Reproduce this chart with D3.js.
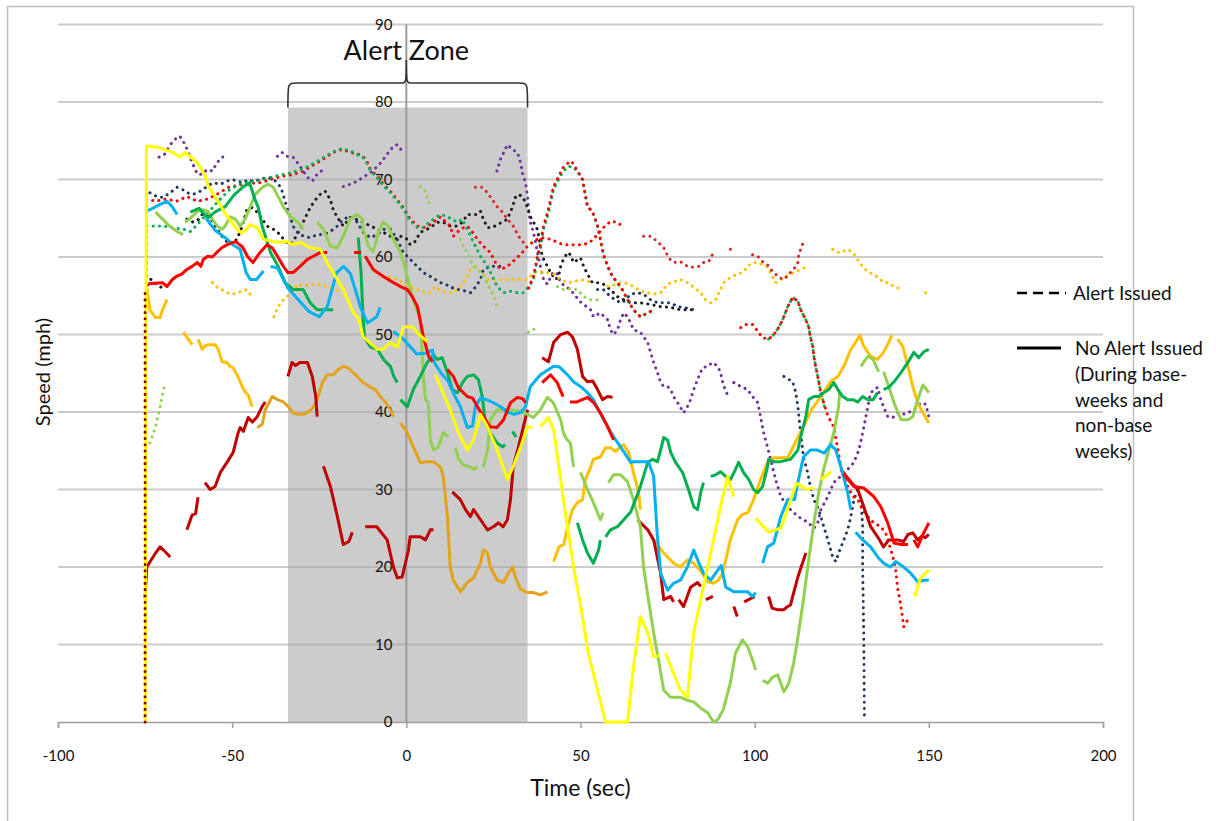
<!DOCTYPE html>
<html>
<head>
<meta charset="utf-8">
<script src="https://cdn.jsdelivr.net/npm/d3@7"></script>
<style>
  body { margin: 0; background: #fff; }
  svg { display: block; }
  text { font-family: Lato, "Open Sans", "DejaVu Sans", sans-serif; fill: #111; }
</style>
</head>
<body>
<svg id="chart" width="1216" height="821"></svg>
<script>
// ---- axes ----
const xTicks = [-100, -50, 0, 50, 100, 150, 200];
const yTicks = [0, 10, 20, 30, 40, 50, 60, 70, 80, 90];
const alertZone = [-34, 34.8];      // seconds
const alertZoneTop = 79.3;          // mph

// ---- no-alert trips (solid) : [time (s), speed (mph)], null = gap ----
const yellowSolid = [[-75,0],[-74.6,74.3],[-73.6,74.3],[-70.7,74.1],[-67,73.5],[-65,72.9],[-63.5,73.5],[-60,72.2],[-57.8,70.5],[-56.9,69.2],[-54.4,67.4],[-51.5,65.3],[-48.7,63.6],[-47.2,63.1],[-45.8,63.6],[-44.8,64.2],[-42.8,63.8],[-41,62.3],[-37,61.9],[-34.2,62],[-32.5,61.6],[-30.5,61.9],[-27.6,61.2],[-24.7,61],[-22.7,59.3],[-18.1,55.8],[-15.2,52.8],[-13.6,52],[-12.4,49.7],[-8.3,48.1],[-6.6,48.1],[-4.6,49],[-2.6,48.4],[-0.9,50.9],[0.3,51],[2,50.9],[3.2,50.2],[6,49.1],null,
  [8.3,44.8],[9.8,43.3],[12.6,40.3],[15,37.3],[17.5,35.1],[19.3,36.4],[21.3,39.7],[23.3,38.1],[26.1,35.1],[29,31.3],[30.7,33],[32.8,35.5],[34.8,38.1],[36.2,38],null,[38.5,38.1],[40.8,39.3],[42.3,37.7],[45.1,28.7],[48,20],[50.6,13.6],[52,9.3],[54.9,4.1],[57.2,0],[63.5,0],[65.2,7.1],[67.2,13.6],[69.3,11.5],[71,8.4],[72.5,8.6],null,
  [74.4,8.9],[76.7,6.3],[78.7,4.1],[80.7,3.2],[82.5,11.5],[86.5,20],[88.2,23.5],[90.2,27.8],[92.2,31.7],[94,29.1],null,
  [100.3,26.3],[104,24.5],[107.5,25],[112,30.8],[115,30],[117,30.2],null,[119,31.3],[122,32.3],null,[146,16.2],[147.5,18.5],[150,19.6]];

const orangeSolid = [[-74.5,56],[-74,54.5],[-73.6,53.2],[-72,52.2],[-70.7,52.2],[-70,53.2],[-68.7,54.5],null,
  [-64,50.3],[-62.6,49.4],[-61.5,48.7],null,[-59.8,49.4],[-58.6,48.1],[-57.8,48.5],[-56.9,48.7],[-54.9,48.7],[-54,48.1],[-52.9,46.5],[-51.5,46.4],[-50.6,45.9],[-49.7,45.7],[-48.6,44.8],[-47.1,43.3],[-46.3,42.6],[-45.4,42.2],[-44.3,40.7],null,
  [42.3,20.7],[43.8,22.6],[45.2,22.9],[46.3,25.2],[47.7,27.4],[49.1,28.3],[50.6,28.7],[51.4,31.3],[52.9,32.9],[53.7,33.9],[55.7,34.2],[57.2,35.4],[58.6,35.4],[60,34.9],[61.5,35.5],[62.4,35.8],[63.8,34.8],[65.2,32.2],[66.7,29.6],[67.2,27.4],null,
  [69.3,24.8],[71,23.5],[73.9,21.8],[76.7,20.5],[78.7,20],[80.7,20.9],[82.5,20.5],[84.5,19.5],[86.5,18.1],[88.2,17.9],[89.6,18.3],[90.8,19.2],[91.7,20.9],[93,23.5],[95.1,26.1],[96.5,26.8],[98,27],[99.7,28.7],[101.7,31.3],[103.7,33.5],[105.5,34.1],[109.5,34.1],[111.8,36.2],[114,38.1],[116.3,40.3],[119,42],[121.8,43.9],[123.9,44.6],[125.6,45.9],[127.6,48.1],[129,49],[130.2,49.9],[131.3,48.5],[133.3,47.2],[135.3,46.8],[137,47.7],[138.5,49],[139.4,49.9],null,
  [141,49.4],[142.5,48.5],[144,45.9],[145.4,43.3],[146.8,41.2],[148.3,39.9],[150,38.6]];

const goldSolid = [[-42.8,38],[-41.4,38.4],[-40.5,40.3],[-38.5,42],[-37,41.6],[-35.3,41.3],[-33.9,40.7],[-32.5,39.9],[-31.3,39.7],[-29.6,39.7],[-28.2,40],[-26.7,40.6],[-25.6,41.6],[-24.1,43.8],[-22.7,44.8],[-21,44.8],[-19.5,45.5],[-18.1,45.9],[-16.7,45.7],[-15.5,45.2],[-14.1,44.6],[-12.4,43.8],[-10.3,43.2],[-8.9,42.9],[-7.5,42],[-6,41.3],[-4.6,40.3],[-3.7,39.4],null,
  [-1.7,38.6],[0.3,37.3],[2,35.5],[4,33.5],[6,33.6],[7.8,33.6],[9.8,32.9],[10.6,31.7],[11.8,26.5],[12.6,20],[13.5,18.3],[15.5,16.8],[17.5,18],[19.3,18.6],[21.3,20.5],[22.1,22.2],[23.3,21.8],[24.1,20],[26.1,18.3],[27.9,18],[29.3,19.2],[30.5,20],[31.3,18.7],[32.8,17.1],[34.8,16.7],[36.5,16.7],[38.5,16.4],[40.5,16.8]];

const redSolid = [[-74.8,56.2],[-73.6,56.6],[-70,56.7],[-68.7,56.2],[-67.2,57.1],[-66,57.5],[-64.5,57.8],[-63,58.4],[-61.5,58.8],[-60,59.3],[-59,58.8],[-58.3,59.7],[-57,60.1],[-55.7,60],[-54.4,60.6],[-53,61.2],[-51,61.7],[-49,62],[-47,61.3],[-45.5,60],[-44,59.3],[-42,60.6],[-40,61.6],[-38.5,61.2],[-37,60.1],[-35.3,58.8],[-34,58],[-32.5,58],[-30.5,58.8],[-28.4,59.7],[-26.7,60.1],[-24.7,60.6],[-22.7,60.6],null,
  [-15,60.6],[-13,60.6],null,[-11.8,60.1],[-9.5,58.4],[-6.6,57.5],[-3.7,56.7],[-1.7,56.2],[0.3,55.8],[1.7,54.9],[3.2,53.6],[4.9,49.7],[6.4,47.2],[7.5,46.5],null,
  [11.8,45.5],[13.5,44.6],[15,43.1],[17.5,42],[19,41.8],[20.4,40.7],[22.2,39.4],[24,38.1],[26,38],[27.9,39],[29.9,41.2],[31.9,41.9],[33.5,41.7],[34.2,41.2],null,
  [39,43.8],[41.4,44.8],[43.3,43.8],[45,42],null,[47,41.3],[49,41.3],[52,41.9],[53.8,41.2],[55.7,39.9],[57.8,38.1],[59.5,36.4],null,
  [125.5,32],[128.5,30.4],[131.3,30.2],[134.2,29.1],[136.2,27.8],[138.2,25.7],[140,23.1],[142,22.9],[144,22.9],null,[145.7,23.5],[146.8,22.6],[148.3,24.2],[150,25.7]];

const darkRedSolid = [[-75,16],[-74.5,20],[-72,21.8],[-70.7,22.6],[-69.3,22],[-67.8,21.3],null,
  [-63,24.8],[-61.5,26.7],[-60.5,26.9],[-59.8,29],null,
  [-57.8,30.9],[-56.3,30],[-54.9,30.4],[-53.4,32.2],[-51.5,33.5],[-49.7,34.8],[-48.3,37.3],[-47.7,38],[-46.8,37.5],[-45.4,39.3],[-44.2,38.7],[-42.8,39.4],[-41.4,40.7],[-40.5,41.3],null,
  [-34,44.6],[-32.8,46.4],[-31.8,46],[-30.5,46.4],[-28.4,46.4],[-27,44.6],[-26,42],[-25.6,39.4],null,
  [-23.8,33],[-21.8,30.4],[-19.8,26.5],[-18.1,22.9],[-16.5,23.3],[-15.5,24.5],null,
  [-11.8,25.2],[-8.5,25.2],[-5.5,23.5],[-3.7,20],[-2.6,18.6],[-1.2,18.7],[0.6,22.2],[1.1,23.9],[4,23.9],[5.5,23.5],[6.9,24.8],[7.8,24.8],null,
  [13.2,29.7],[15.5,28.7],[17,27.4],[18.4,26.5],[19.3,27.4],[21.3,26.1],[23.3,24.8],[25,25.2],[26.4,25.7],[27.8,25.2],[29,26.1],[29.9,28.7],[30.7,33],[32.2,35.5],[33.6,38.1],[34.8,40.3],null,
  [39,47],[40.8,46.5],[42.3,49],[44.3,50],[46.3,50.3],[47.7,49.7],[49.1,48.1],[50.6,44.6],[52,43.9],[53.5,44],[54.9,42.9],[56.3,41.6],[57.8,42],[59.2,41.9],null,
  [66.4,26.1],[69.3,24.8],[71,23.5],[73,19.2],[73.9,15.8],[75.9,16.2],[76.7,15.5],null,
  [78.2,15.8],[79.6,14.9],[81.6,17.4],[83.6,18],[84.5,17.5],null,[86,15.8],[88,16.2],null,[94,14.9],[95,13.6],null,[97,15.5],[100,16.2],null,
  [104,16.2],[105,14.7],[106.5,14.5],[108.4,14.5],[109.4,14.9],[110.3,15.1],[111.2,16.7],[112.4,18.7],[114.7,21.8],null,
  [124.7,32.6],[127.6,31],[129.6,30],[131.3,27.8],[133.3,25.2],[135.3,23.9],[137,22.6],[138.5,23.5],[141,23.5],[142.8,23.3],[144,24.2],[145.4,24.4],[146.8,23.5],[148,24],[149,23.8],[150,24.2]];

const lightGreenSolid = [[-72,65.8],[-70,64.9],[-68,64],[-65.8,63.3],[-64.1,62.9],null,
  [-63.5,64.5],[-61.5,65.2],[-60,65.9],[-58.3,66.1],[-56.9,65.9],[-55.7,64.9],[-54.3,64],[-52.9,63.6],[-52,64],[-50.6,65.2],[-49.1,64.9],[-47.7,64],[-46.3,64.9],[-44.8,66.5],[-43.4,68.1],[-42,68.7],[-41,69.1],[-39.7,69.4],[-38.2,69],[-36.8,67.8],[-35.3,66.5],[-33.3,65.2],[-31.3,64.6],[-29.6,63.6],null,
  [-25.6,64.5],[-23.8,63.6],[-21.8,61.4],[-19.8,61.2],[-18.1,62.7],[-16.1,64.9],[-14.1,65.5],[-12.6,64.9],[-12.4,63.6],[-10.9,61.4],[-9.5,60.7],[-8,63.2],[-6.6,64.5],[-5.2,64],[-3.7,62.3],[-1.7,60.6],[0.3,57.5],[2,54.5],[4,51.9],[4.5,48],[5,44],[5.5,41.6],[6.3,41.2],[6.9,36.4],[7.8,35.1],[9.2,35.5],[10.6,37.3],[12.1,36.8],null,
  [14.1,35.4],[15,33.9],[16.4,33.2],[18.4,32.9],[19.3,32.6],[20.4,32.9],null,
  [22.1,32.9],[23.3,35.1],[24.1,39],[26.1,40.3],[29.9,40.3],[32.8,40.1],[34.8,39.7],[36.5,39.3],[38.5,40.3],[40.5,41.9],[42.2,41.2],[44.3,39],[45.1,37.3],[46,36.5],[47.1,36],[48,32.9],null,
  [50,32.2],[52,30],[53.7,28.3],[55.7,26.1],[56.5,27],null,
  [58,30.9],[59.5,31.9],[61.5,31.9],[63.5,31],[65.2,28.7],[67.2,25.2],[68.1,20],[69.5,15.8],[71,11.5],[72.4,8],[73.9,4.1],[75.9,3.2],[78.7,3.2],[80.7,2.8],[82.5,2.6],[84.5,1.8],[86.5,1.2],[88.2,0],[89.4,0.3],[91,1.6],[93,5],[94.5,8.9],[96.5,10.6],[98,9.7],[99.4,8],[100.3,6.7],null,
  [102.3,5.4],[103.7,5],[105.2,5.8],[106.6,6.1],[107.5,5],[108.4,3.9],[109.8,5],[111.2,7.6],[112.6,11.5],[114,15.8],[115.5,20.9],[117,25.7],[118.4,29.6],[119.8,32.6],[121.3,35.1],[122.7,37.3],[124.1,40.7],[124.4,42.6],null,
  [130.5,45.9],[132.5,47.2],[134,46.8],[135.6,45.2],null,
  [137,45.2],[138.5,43.3],[140,41.2],[142,39],[144,39],[145.4,39.4],[146.8,41.6],[148.3,43.5],[150,42.5]];

const greenSolid = [[-62,65.8],[-59.5,66.3],[-57,65],[-55,65.8],[-52,66.5],[-49.5,68],[-47,69],[-45,69.6],[-43.5,67.5],[-42.5,66.4],[-41.4,64],[-39,60.6],[-36.8,58.8],[-34.8,56.7],[-32.5,55.8],[-29.6,55.8],[-27.6,54.1],[-25.6,53.2],[-21,53.2],null,
  [-13.8,62.5],[-13,58],[-12.4,52],[-12,49.6],[-10.3,48.4],[-8.3,48.1],[-6.6,46.8],[-4.6,45.9],[-3.5,44.5],[-2.6,43.8],null,
  [-1.7,41.6],[0.3,40.7],[2,42.9],[4,44.6],[6,46.4],[7.8,47.4],[8.9,46.8],[10.3,47],[11.8,45.1],[13.2,42.9],[14.7,42.5],[16.1,43.8],[17.5,44.6],[19.3,44.8],[20.7,44.2],[21.8,42],[22.7,38.6],[24.1,37.3],[26.1,36],[27.6,35.5],[28.4,35.8],null,
  [30.5,37.5],[31.5,36.8],null,
  [49.1,25.7],[50.6,23.5],[52,21.8],[53.7,20.5],[55.2,22.2],[55.7,23.5],null,
  [57.2,23.9],[58.6,24.8],[60.6,25.2],[62.4,26.1],[64.4,27.1],[65.8,28.7],[67.2,30.4],[69.3,33.5],[70.7,33.9],[72.1,33.6],[73,35.1],[73.9,36.7],[75,36.4],[75.9,34.8],[77.3,33.5],[79.3,32.2],[81,30],[82.5,27.8],[83.6,27.4],[84.5,29.6],[85.3,30.9],null,
  [87.4,31.7],[88.8,31.9],[90.2,32.3],[91.7,31.7],[93.1,31.3],[94.5,32.6],[95.4,33.5],[96.8,32.2],[98.3,31.3],[99.7,30],[100.9,29.6],[102.3,30.4],[103.7,33],[104,33.9],[105.5,33.6],[107.5,33.6],[110.3,33.9],[112.4,35.1],[113.2,36.8],[114.7,39.4],[115.5,41.6],[117,42],[118.4,42],[119.8,42.5],[121.3,42.9],[122.7,43.8],[123.9,42.9],[125.3,42],[126.7,41.6],[128.2,41.6],[129.6,41.3],[131,42],[132.5,41.6],[134,41.6],[135.3,42.5],null,
  [137,42.9],[138.5,43.2],[140,43.9],[142,45.1],[144,46.4],[145.7,47.7],[147.1,47],[148.6,47.8],[150,48.1]];

const lightBlueSolid = [[-74.6,66],[-73.6,66.1],[-70.7,66.8],[-68.7,67.2],[-67.2,66.5],[-65.8,65.5],null,
  [-57.5,65],[-55,63.5],[-52,62.5],[-49.5,61.5],[-47.7,61],[-46,58],[-44.8,57.1],[-43,57.1],[-41,58.2],null,
  [-39,58.8],[-37,58.6],[-34,56],[-31,54.5],[-28,53],[-25,52.3],[-22.7,53.6],[-20,58],[-18,58.8],[-16,57.8],[-13.2,53.6],[-11.2,51.5],[-8.5,52.3],[-7.5,53.5],null,
  [-3.7,50.4],[-1,49.5],[1,48.5],[3,47.5],[5.5,47.6],[7.5,48],[8,46.4],[10,45],[12,44],[14,42],[15.5,40.7],[17.5,38],[19,38.2],[19.8,40.7],[21.3,41.8],[23,41.6],[25,41.2],[27,40.7],[29,40],[31,39.7],[33,40],[34.2,40.7],[35.6,43.3],[38.5,44.8],[42.3,45.9],[44,45.8],[46.3,44.8],[48,43.9],[50,43.3],[52,42.5],[53.7,41.6],[55.5,40],[57.8,38.1],[59.5,36.8],[61.5,35.5],[64.4,33.5],[65.5,33.6],[69.5,33.6],[71,31.7],[72,24.4],[73,19.2],[75,17],[76.7,17.9],[78.7,18.3],[80.7,20],[82.5,22.2],[84,20.5],[85.3,19.2],[87.4,18.3],[89.4,19.6],[90.4,20.2],[91.7,17.4],[94,16.8],[98,16.8],[99.4,16.2],[100.3,16.7],null,
  [102.3,20.5],[103.7,22.6],[105.5,23.1],[107.5,26.5],[109.5,28.7],[111.4,28.7],[112.4,30.9],[114,34.2],[116,35.1],[118,35.1],[120,34.7],[121.8,35.8],[123.3,35.1],[124.7,33],[126.7,29.6],[127.6,27.4],null,
  [129,24.5],[131,23.5],[133.3,22.6],[135.3,21.3],[137,20.5],[139,20],[140.5,20.7],[142.8,20],[144.8,19.2],[146.8,18.1],[148.6,18.3],[150,18.3]];

// ---- alert-issued trips (dotted) ----
const purpleDotted = [[-71,72.9],[-69.3,73.3],[-67.8,74.5],[-66.4,75.2],[-65,75.6],[-63.5,74.5],[-62.6,73.5],[-61.5,72.2],[-60,70.7],[-58.6,70.7],[-57.2,71.3],[-55.7,71.1],[-54.3,72.2],[-52.9,72.9],[-52,72.9],null,
  [-37,73],[-35.7,73.5],[-34.2,73],[-32.5,72.9],[-31.3,72.2],[-29.9,71.3],[-28.4,70.3],[-27,69.8],[-25.6,70.7],[-23.8,71.3],null,
  [-18.1,69.1],[-16.1,69.4],[-14.1,69.8],[-12.4,70.3],[-10.3,70.9],[-8.3,71.7],[-6.9,72.4],[-5.5,73.3],[-3.7,74.3],[-2.6,74.5],[-0.9,73.5],null,
  [26,71.1],[27,72.6],[29,74.5],[30.4,73.9],[31.9,73.5],[32.8,72.2],[33.3,70.9],[34.2,69.6],[34.8,67.8],[35.1,66.1],[35.6,64.5],[36.5,63.2],[37.1,61.9],[37.6,60.6],[38.5,58.8],[39.4,57.1],[40.5,56.5],[41.4,57.4],[42.2,58.1],[43.4,57.8],[44.3,56.7],[45.7,56.2],[47.1,55.8],[50,54.2],[52.9,53.2],[53.7,52.3],[55.7,52.8],[57.8,51.9],[58.6,50.6],[59.5,50],[60.6,50.6],[61.5,51.9],[62.4,52.8],[63.5,52.3],[64.4,51.5],[65.2,50.6],[67.2,50.3],[68.1,49.7],[69.3,49],[70.1,47.7],[71,46.4],[72.1,45.1],[73,43.8],[73.9,43.3],[75,43.3],[75.9,42.9],[76.7,42],[77.9,41.2],[78.7,40.6],[79.6,39.9],[80.7,40.7],[81.6,41.6],[82.5,42.9],[83.6,44.2],[85,45.7],[86.5,45.9],[87.9,46.4],[89.4,45.9],[90.2,45.1],[91,43.5],[92.2,42.2],null,
  [94,43.8],[96,43.3],[98,42.9],[99.4,42],[100.9,41.2],[102.6,37.3],[104.6,33.9],[106,31.3],[107.5,29.1],[109.5,27.8],[111.2,27],[113.2,26.3],[115.2,25.8],[117,25],[118.1,25.7],[119,27.4],[121,29.1],[122.7,30.9],[124.7,31.7],[126.7,32.6],[128.5,33.5],[129.9,35.1],[131,37.3],[132.5,40.7],[133.3,42.5],[135.3,43.2],[136.2,41.6],[137,40.7],[138.2,39.4],[139.7,39.3],[141,39.9],[142.5,39.7],[144,39.9],[145.7,40.3],[147.7,41.2],[149.1,41],[150,39.4]];

const blackDotted = [[-74.6,68.2],[-74.6,57.5],[-73,57],[-71.5,56.4],[-70,56],null,
  [-63,64.9],[-61.2,64.5],[-59.5,64.9],[-58.6,65.5],[-56.5,65.2],[-54.3,63.6],[-52.6,62.5],[-50.6,61.6],[-48.6,62.3],[-47.1,64],[-45.8,66.1],[-44.3,66.4],[-42.8,65.8],[-41.4,64.9],[-40,64],[-38.2,63.6],[-36.2,62.9],[-34.8,62],[-33.3,61.6],[-31.9,62.5],[-30.5,63.6],[-29,65.1],[-27.6,66.4],[-26.1,67.4],[-24.7,68.1],[-23.3,68.5],[-21.8,67.4],[-21,66.1],[-19.5,64.9],[-18.1,64],[-16.1,65.1],[-14.6,64.9],[-12.4,64.5],[-10.3,64],[-8.3,63.6],[-6.6,63.2],[-4.6,62.7],[-2.6,62.3],[-1.7,62.7],[0.3,62.3],[1.1,61.6],[2.5,62],[4,63.2],[6,63.6],[7.5,64],[8.9,64.5],[10.6,64.5],[12.6,64],[14.7,64],[16.1,64.5],[17.5,65.5],[19,65.5],[20.4,65.5],[21.3,65.9],[22.1,64.9],[23.3,63.8],[24.7,63.8],[26.1,64.2],[27.6,64.5],[29,64.9],[30.5,66.5],[31.3,67.7],[32.2,68.1],[33.3,67.8],[34.2,67.1],[35.6,65.2],[36.5,64.5],[37.6,63.6],[38,62.7],[38.5,61.4],[39,60.1],[40.5,58.8],[41.4,58],[42.8,57.1],[43.7,57.5],[44.3,58.8],[45.1,59.7],[46.3,60.6],[47.1,60.3],[48,59.3],[50,59.9],[50.9,58.8],[52,57.8],[53.4,56.7],[55.2,56.7],[56.6,56.5],[58.6,55.8],[60.6,54.9],[62.4,54.5],[64.4,54.1],[67.2,54.1],[70,53.9],[73,53.6],[75.9,53.5],[78.7,53.2],[82.5,53.2]];

const navyDotted = [[-73.6,68.3],[-71.6,67.8],[-69.8,67.7],[-67.8,68.3],[-65.8,69],[-64.5,68.8],[-63,68.3],[-61.2,68.1],[-59.2,68.5],[-57.2,69.1],[-55.5,69.6],[-53.4,69.4],[-51.5,69.8],[-50,70],[-48.5,69.8],[-46.8,69.6],[-45.4,70],[-44,69.8],[-42,70],[-40,70.3],[-38,70],[-36,69],[-34,66],[-32.5,64],[-31.3,63.2],[-29.6,62.7],[-27.6,62.5],[-25.6,62.9],[-23.8,62.9],[-21.8,63.3],[-19.8,64],[-18.1,64.9],[-16.1,65.2],[-14.1,64.5],[-12.4,63.2],[-10.3,62.5],[-8.3,62.9],[-6.6,63.6],[-4.6,63.6],[-2.6,62.3],[-0.9,60.6],[0.3,60.1],[2,59.3],[4,58.4],[5.5,57.8],[6.9,57.5],[8.3,57.1],[9.8,56.7],[11.2,56.5],[12.6,56.2],[14.1,55.8],[15.5,55.8],[17,55.6],[18.4,55.4],[19.8,56.1],[21.3,57.1],[22.1,58.4],[24.1,58.8],[27.6,58.8],null,
  [54.9,55.8],[56.6,55.8],[58.6,54.9],[60.6,54.3],[62,54.1],[64.4,55.2],[66.4,55.4],[68.1,55.2],[70.1,54.5],[72.1,54.1],[75.9,54.1],[77.9,53.6],[79.6,53.5],[82.5,53.2],null,
  [108.4,44.6],[110.9,43.9],[111.8,42.5],[112.4,40.7],[113.2,37.3],[114,34.2],[115.2,32.2],[116,30.4],[117,28.7],[118.4,27.4],[119.5,25.7],[121,23.5],[122.4,21.3],[123.3,20.7],[124.1,21.8],[125.6,23.5],[126.7,24.8],[127.6,26.5],[128.5,28.7],[129.6,30],[130.5,28.7],[131,25.2],[131,20],[131.3,11.5],[131.5,0.5]];

const redDotted = [[-74.6,67.5],[-72,67.2],[-69,67.5],[-66,67.2],[-63,67.8],[-60,67.2],[-57,67.5],[-54,68.2],[-51,69],[-48,69.3],[-45,69.5],[-42,69.6],[-39,70],[-36,70.4],[-33,70.6],[-30,71],[-27,71.8],[-24,72.6],[-21,73.5],[-18.5,73.9],[-16,73.5],[-14,73.3],[-12.4,73],[-11.2,72.2],[-10.3,71.3],[-8.3,70.4],[-6.6,69.4],[-4.6,68.5],[-2.6,67.4],[-0.9,66.4],[1.1,64.9],[3.2,64],[4.9,63.8],[6.9,64.2],[9.8,65.2],[12.6,64],[13.5,62.7],[15.5,63.6],[17.5,64],[19,63.2],[20.4,62.3],[22.1,61.4],[24.1,60.6],[25.6,59.3],[27,58.4],[29,58.8],[31.3,59.7],[33.3,60.6],[34.8,61.4],[36.2,61.9],[37.6,62.3],[39.4,62.5],[41.4,62.3],[43.4,61.9],[45.1,61.6],[48,61.6],[50.9,61.6],[52.9,62],[54.9,62.9],[56.6,63.8],[58.6,64.6],[60.6,64.5],[62.4,63.8]];

const redPeakDotted = [[35.1,56],[36.5,57.5],[37.6,60],[38.5,61.8],[39.4,64],[40.5,65.7],[41.4,67.4],[42.2,69],[43.7,70.4],[45.1,71.6],[46.6,72.2],[47.3,72.4],[48,72],[49.4,70.9],[50.6,70],[52,66.5],[53.4,65.9],[54.9,64],[55.7,62.3],[56.6,60.3],[57.8,58.8],[59.2,57.5],[60.6,56.7],[62,55.8],[63.5,54.5],[65.2,53.2],[67.2,52.3],[69.3,52.8],[71,53.2],null,
  [96,50.9],[97.4,51.3],[99.4,51.3],[100.9,50.4],[102.3,49.6],[104,49.4],[105.5,50],[106.9,50.9],[108,51.9],[109.5,53.6],[110.9,54.8],[112.4,54.3],[113.2,53.2],[114.7,51.9],[115.5,51],[116,49.7],[116.7,48.4],[117,47.2],[117.5,45.9],[118.1,44.6],[119,42.5],[119.8,41.2],[121,39.5],[122.7,38.1],[123.9,35.1],[124.7,33],[125.6,31.7],[126.7,30.4],[128.2,29.1],[129.6,28.7],[131,27.4],[132.5,26.5],[134.2,25.7],[136.2,25.2],[137.6,24.4],[138.5,23.1],[139.7,21.3],[140.5,19.6],[141,17.4],[142,14.9],[142.8,12.3],[144,13.2],[144.3,13.6]];

const greenDotted = [[-74.5,64],[-72,64],[-70,64],[-67,63.8],[-64,63.6],[-62,63.3],[-60,64.2],[-58,65.2],[-56,66.2],[-54,67.2],[-51,68.6],[-48,69.4],[-45,69.7],[-42,69.9],[-39,70.3],[-36,70.6],[-33,70.9],[-30,71.3],[-27,72],[-24,72.8],[-21,73.6],[-18.5,74],[-16,73.7],[-14,73.2],[-12.4,72.8],[-11.2,72],[-10.3,71.1],[-8.3,70.2],[-6.6,69.2],[-4.6,68.3],[-2.6,67.2],[-0.9,66.2],[1.1,64.7],[3.2,63.8],[4.9,63.8],[6.3,64.4],[7.8,64.9],[9.8,65.5],[11.8,65.2],[14.7,64.5],[16.1,64.9],[17.5,63.6],[19.3,61.9],[21.3,60.1],[23.3,58.8],[24.7,57.5],[26.1,56.2],[27.9,55.4],[29.9,55.6],[31.9,55.4],[33.6,55.4],[35.1,56.2],[36.5,57.1],[37.6,59.7],[38.5,61.4],[39.4,63.6],[40.5,65.2],[41.4,67],[42.2,68.7],[43.7,70],[45.1,71.1],[46.6,71.7],[48,71.6],[49.4,70.9],[50.6,70],[52,66.5],[53.4,65.9],[54.9,64],[55.7,62.3],[56.6,60.3],[57.8,58.8],[59.2,57.5],[60.6,56.7],[62,55.8],[63.5,54.5],[65.2,53.2],[67.2,52.3],[69.3,52.8],[71,53.2],null,
  [104,49.4],[105.5,50],[106.9,50.9],[108,51.9],[109.5,53.6],[110.9,54.8],[112.4,54.3],[113.2,53.2],[114.7,51.9],[115.5,51],[116,49.7],[116.7,48.4],[117,47.2],[117.5,45.9],[118.1,44.6],[119,42.5],[119.8,41.2],[120.3,40]];

const crimsonDotted = [[19.8,69],[21.8,69],[23.3,68.3],[24.7,67.4],[26.1,66.5],[27.6,65.8],[29,64.9],[30.7,64],[32.2,62.7],[33.6,61.9],[35,61.6],null,
  [68.1,62.7],[70.1,62.7],[72.1,62],[73.9,61.2],[75.3,59.9],[76.7,59.3],[78.7,59.4],[80.7,58.8],[82.2,58.7],[83.9,58.8],[85.3,59.3],[86.8,59.4],[88.2,60.6],null,
  [93,61],[94.5,61.2],null,
  [99.4,60.3],[100.9,60.1],[102.3,59.4],[103.7,59],[104.6,58.4],[106,57.8],[106.9,57.4],[108.4,57.1],[109.8,57.8],[111.2,58.4],[112.4,59.3],[112.6,60.1],[113.2,61],[114,61.9],[114.7,62.3]];

const orangeDotted = [[-55.7,56.7],[-54.3,56.1],[-52.9,55.8],[-51.5,55.4],[-50,55.2],[-48.5,55.4],[-47.1,55.6],[-45.8,55.8],[-44.8,55.2],null,
  [-38,52.3],[-36.8,53.6],[-35.3,54.5],[-34,55],[-32.8,55.4],[-31.3,56.5],[-29.6,56.3],[-27,56.5],[-24.7,56.5],[-22.7,56.2],[-21,55.8],[-19,55.6],null,
  [-8.3,58],[-6.6,57.6],[-4.6,57.4],[-2.6,57.1],[-0.9,56.7],[1.1,56.2],[3.2,55.8],[5,55.5],[6.9,55.4],[8.3,56.2],[9.8,55.6],[11.8,55.4],[13.5,55.4],[15.5,56.2],[17,57.1],[18.4,58.4],[19.8,58.8],[21.3,58],[23.3,57.1],[27,57.1],[30,57.1],[32.8,57.1],[34.8,57.1],[36.5,58],[38.5,58.1],[40.5,58],[42.3,57.8],[44.3,57.1],[46.3,56.7],[48,56.8],[50,57.1],[51.8,56.9],[53.7,56.7],null,
  [57.8,56.2],[59.6,56.4],[61.5,56.7],[63.3,56.6],[65.2,56.2],[67.2,55.6],[69.2,55.4],[71,55.2],[73,55.4],[75,56.5],[76.7,56.8],[78.7,57.1],[80.7,56.7],[82.5,56.1],[84.5,55.4],[85.9,54.5],[87.4,54.1],[88.8,54.5],[89.7,55.4],[91.1,56.7],[93.1,57.4],[95.1,57.8],[96.8,58.1],[98,58.8],[99.4,59.3],[100.9,59.3],[102.3,59],[103.7,58.7],[105.2,57.4],[106,56.7],[107.5,57.1],[108.9,57.5],[110.3,57.8],[111.8,58.1],[113.2,58.4],[114.7,58.7],null,
  [122.4,61],[123.9,60.6],[125.3,60.7],[126.7,61],[128.2,60.6],[129,60.1],[129.9,59.4],[131,58.8],[132.5,58.1],[133.9,57.8],[135.3,57.4],[136.8,56.8],[138.2,56.7],[139.7,56.3],[141,56.1],[142,55.4],null,
  [149.1,55.4],[149.6,55.3]];

const lightGreenDotted = [[-73.6,36],[-72,38.1],[-70.7,40.7],[-69.3,43.8],null,
  [4,69.1],[5.5,68.5],[6.9,66.5],null,
  [15.5,62.3],[16.4,61.4],[17.5,60.6],[18.4,59.7],[19.3,58.8],[21.3,58],[22.7,57.1],[24.1,55.8],[25.6,54.5],[26.1,53.2],null,
  [35,50.3],[37.5,50.9],null,
  [43.4,56.2],[45.1,55.8],[47,55.9],[49.1,55.8],[50.9,54.9],[52.9,54.5],[54.9,54.5],[56.3,54.8]];

const darkRedDotted = [[-75,0],[-75,56]];

const legendItems = [
  { lines: ["Alert Issued"], dashed: true },
  { lines: ["No Alert Issued", "(During base-", "weeks and", "non-base", "weeks)"], dashed: false }
];

// drawing order: alert trips underneath, no-alert trips on top
const series = [
  { data: purpleDotted, color: "#7030A0", dotted: true },
  { data: blackDotted, color: "#1a1a1a", dotted: true },
  { data: navyDotted, color: "#1F3864", dotted: true },
  { data: orangeDotted, color: "#FFC000", dotted: true },
  { data: crimsonDotted, color: "#D42A2A", dotted: true },
  { data: redDotted, color: "#FF0000", dotted: true },
  { data: greenDotted, color: "#00B050", dotted: true },
  { data: redPeakDotted, color: "#FF0000", dotted: true },
  { data: lightGreenDotted, color: "#92D050", dotted: true },
  { data: goldSolid, color: "#E3A21A", dotted: false },
  { data: orangeSolid, color: "#FFC000", dotted: false },
  { data: darkRedSolid, color: "#C00000", dotted: false },
  { data: lightGreenSolid, color: "#92D050", dotted: false },
  { data: greenSolid, color: "#00B050", dotted: false },
  { data: lightBlueSolid, color: "#00B0F0", dotted: false },
  { data: redSolid, color: "#FF0000", dotted: false },
  { data: yellowSolid, color: "#FFFF00", dotted: false },
  { data: darkRedDotted, color: "#8B0000", dotted: true }
];

// ---- layout ----
const svg = d3.select("#chart");
const x = d3.scaleLinear().domain([-100, 200]).range([58, 1103]);
const y = d3.scaleLinear().domain([0, 90]).range([722, 24.6]);

// outer frame
svg.append("rect").attr("x", 7.5).attr("y", 6.5).attr("width", 1126).attr("height", 820)
  .attr("fill", "#fff").attr("stroke", "#bfbfbf").attr("stroke-width", 1.5);

// alert zone band
svg.append("rect")
  .attr("x", x(alertZone[0])).attr("width", x(alertZone[1]) - x(alertZone[0]))
  .attr("y", y(alertZoneTop)).attr("height", y(0) - y(alertZoneTop))
  .attr("fill", "#cccccc");

// horizontal gridlines
svg.append("g").selectAll("line").data(yTicks.filter(d => d > 0)).join("line")
  .attr("x1", x(-100)).attr("x2", x(200))
  .attr("y1", d => y(d)).attr("y2", d => y(d))
  .attr("stroke", "#a9a9a9").attr("stroke-opacity", 0.6).attr("stroke-width", 2);

// y axis line at t = 0
svg.append("line").attr("x1", x(0)).attr("x2", x(0)).attr("y1", y(90)).attr("y2", y(0))
  .attr("stroke", "#9a9a9a").attr("stroke-width", 2);

// x axis
const xAxis = d3.axisBottom(x).tickValues(xTicks).tickSize(6).tickPadding(22).tickFormat(d3.format("d"));
const gx = svg.append("g").attr("transform", `translate(0,${y(0)})`).call(xAxis);
gx.select(".domain").attr("stroke", "#a0a0a0").attr("stroke-width", 1.5);
gx.selectAll(".tick line").attr("stroke", "#a0a0a0").attr("stroke-width", 1.5);
gx.selectAll(".tick text").attr("font-size", 15).attr("font-family", "Lato, sans-serif").attr("fill", "#222")
  .text(d => d < 0 ? "-" + Math.abs(d) : d);

// y axis labels sitting on the t = 0 line
const yAxis = d3.axisLeft(y).tickValues(yTicks).tickSize(0).tickPadding(14);
const gy = svg.append("g").attr("transform", `translate(${x(0)},0)`).call(yAxis);
gy.select(".domain").remove();
gy.selectAll(".tick text").attr("font-size", 15).attr("font-family", "Lato, sans-serif").attr("fill", "#222");

// series
const line = d3.line().defined(d => d !== null).x(d => x(d[0])).y(d => y(d[1]));
const gSeries = svg.append("g").attr("fill", "none");
series.forEach(s => {
  gSeries.append("path").datum(s.data)
    .attr("d", line)
    .attr("stroke", s.color)
    .attr("stroke-width", 3)
    .attr("stroke-linecap", s.dotted ? "round" : "butt")
    .attr("stroke-linejoin", "round")
    .attr("stroke-dasharray", s.dotted ? "0.1 6.2" : null);
});

// alert zone brace and title
const bx0 = x(alertZone[0]), bx1 = x(alertZone[1]), bxm = x(0);
const byTop = y(alertZoneTop), byBar = 83, byTip = 60;
svg.append("path")
  .attr("d", `M${bx0},${byTop} C${bx0},${byBar} ${bx0},${byBar} ${bx0 + 8},${byBar}
              L${bxm - 6},${byBar} C${bxm},${byBar} ${bxm},${byBar} ${bxm},${byTip}
              C${bxm},${byBar} ${bxm},${byBar} ${bxm + 6},${byBar}
              L${bx1 - 8},${byBar} C${bx1},${byBar} ${bx1},${byBar} ${bx1},${byTop}`)
  .attr("fill", "none").attr("stroke", "#333").attr("stroke-width", 1.6);
svg.append("text").attr("x", bxm).attr("y", 60).attr("text-anchor", "middle")
  .attr("font-size", 27).text("Alert Zone");

// axis titles
svg.append("text").attr("x", x(50)).attr("y", 796).attr("text-anchor", "middle")
  .attr("font-size", 23).text("Time (sec)");
svg.append("text").attr("transform", `translate(50,${372}) rotate(-90)`).attr("text-anchor", "middle")
  .attr("font-size", 20).text("Speed (mph)");

// legend
const lg = svg.append("g");
lg.append("line").attr("x1", 1017).attr("x2", 1066).attr("y1", 293).attr("y2", 293)
  .attr("stroke", "#000").attr("stroke-width", 2.5).attr("stroke-dasharray", "10 6");
lg.append("line").attr("x1", 1017).attr("x2", 1061).attr("y1", 348).attr("y2", 348)
  .attr("stroke", "#000").attr("stroke-width", 3);
lg.append("text").attr("x", 1073).attr("y", 299.5).attr("font-size", 19).text(legendItems[0].lines[0]);
lg.append("text").attr("x", 1075).attr("y", 355).attr("font-size", 19)
  .selectAll("tspan").data(legendItems[1].lines).join("tspan")
  .attr("x", 1075).attr("dy", (d, i) => i === 0 ? 0 : 25.8).text(d => d);
</script>
</body>
</html>
